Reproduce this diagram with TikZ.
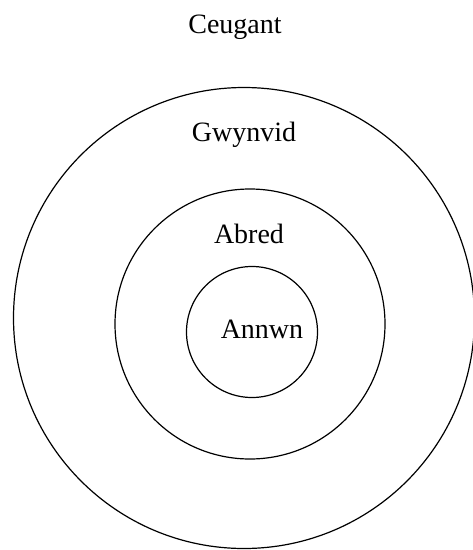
\documentclass[tikz,border=0pt]{standalone}
\usepackage{fontspec}
\setmainfont{Liberation Serif}
\usetikzlibrary{
  positioning,
  shapes.geometric
}

\begin{document}
\begin{tikzpicture}[
  x=1pt, y=-1pt,
  ring/.style={draw, circle, line width=1.2pt, inner sep=0pt},
  realm/.style={font=\fontsize{28}{32}\selectfont, inner sep=0pt, anchor=center}
]
  \useasboundingbox (0,0) rectangle (473,550);

  % Circles
  \node[ring, minimum size=461pt] (gwynvid_c) at (244,318) {};
  \node[ring, minimum size=270pt] (abred_c) at (250,324) {};
  \node[ring, minimum size=131pt] (annwn_c) at (252,332) {};

  % Labels
  \node[realm] (ceugant) at (235,27) {Ceugant};
  \node[realm] (gwynvid) at (244,135) {Gwynvid};
  \node[realm] (abred) at (249,234) {Abred};
  \node[realm] (annwn) at (262,329) {Annwn};

\end{tikzpicture}
\end{document}
